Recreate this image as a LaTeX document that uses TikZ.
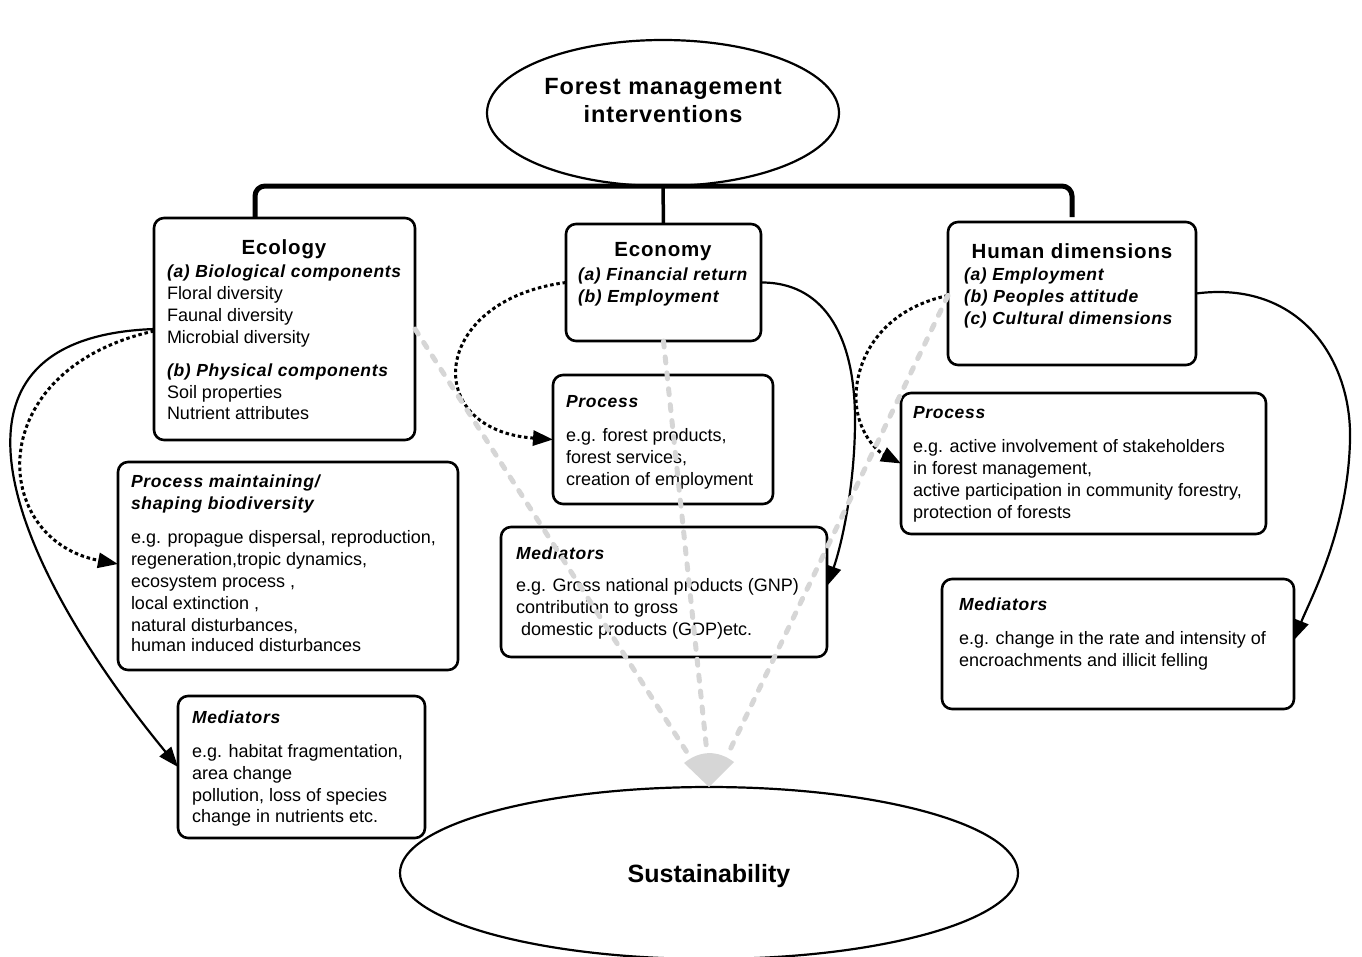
\documentclass[tikz,border=0pt]{standalone}
\usepackage{fontspec}
\setmainfont{Liberation Sans}
\newfontfamily\hfont[LetterSpace=4]{Liberation Sans}
\usetikzlibrary{arrows.meta,calc,shapes.geometric}
\definecolor{lgray}{RGB}{214,214,214}
\newcommand{\bitx}[1]{{\hfont\bfseries\itshape\fontsize{17.5}{22}\selectfont #1}}
\begin{document}
\begin{tikzpicture}[x=1pt,y=-1pt,
  box/.style={draw,line width=2.6pt,rounded corners=10pt,inner sep=0pt,outer sep=0pt},
  txt/.style={anchor=north west,inner sep=0pt,outer sep=0pt,align=left,font=\fontsize{18}{22}\selectfont},
  head/.style={anchor=base,inner sep=0pt,outer sep=0pt,font=\hfont\bfseries\fontsize{20.5}{22}\selectfont},
  oval/.style={ellipse,draw,line width=2.2pt,inner sep=0pt,outer sep=0pt},
  conn/.style={line width=2.2pt},
  arr/.style={-{Triangle[length=20pt,width=15pt]}},
  dotc/.style={line width=3pt,dash pattern=on 3.5pt off 2.8pt},
  gline/.style={draw=lgray,line width=5pt,line cap=round,dash pattern=on 6pt off 10pt},
  bracket/.style={line width=5pt,rounded corners=10pt}]
\useasboundingbox (0,0) rectangle (1362,956);

% ovals
\node[oval,minimum width=352pt,minimum height=146pt] (fmi) at (663,113) {};
\node[anchor=north,align=center,inner sep=0pt,font=\hfont\bfseries\fontsize{23.5}{28}\selectfont] (fmit) at (663,70) {\rule{0pt}{24pt}Forest management\\interventions};
\node[oval,minimum width=618pt,minimum height=172pt] (sust) at (709,873) {};
\node[anchor=base,inner sep=0pt,font=\bfseries\fontsize{25}{28}\selectfont] (sustt) at (709,882) {Sustainability};

% boxes
\node[box,minimum width=261pt,minimum height=222pt] (eco) at (284.5,329) {};
\node[box,minimum width=195pt,minimum height=117pt] (econ) at (663.5,282.5) {};
\node[box,minimum width=248pt,minimum height=143pt] (hum) at (1072,293.5) {};
\node[box,minimum width=340pt,minimum height=208pt] (ecoproc) at (288,566) {};
\node[box,minimum width=247pt,minimum height=142pt] (ecomed) at (301.5,767) {};
\node[box,minimum width=220pt,minimum height=129pt] (econproc) at (663,439.5) {};
\node[box,minimum width=326pt,minimum height=130pt] (econmed) at (664,592) {};
\node[box,minimum width=365pt,minimum height=141pt] (humproc) at (1083.5,463.5) {};
\node[box,minimum width=352pt,minimum height=130pt] (hummed) at (1118,644) {};

% texts
\node[head] (ecoh) at (284,254) {Ecology};
\node[txt] (ecot) at (167,257) {\rule{0pt}{20pt}\bitx{(a) Biological components}\\ Floral diversity\\ Faunal diversity\\ Microbial diversity\\[11pt] \bitx{(b) Physical components}\\ Soil properties\\[-1pt] Nutrient attributes};
\node[head] (econh) at (663,256) {Economy};
\node[txt] (econt) at (578,260) {\rule{0pt}{20pt}\bitx{(a) Financial return}\\ \bitx{(b) Employment}};
\node[head] (humh) at (1072,258) {Human dimensions};
\node[txt] (humt) at (964,260) {\rule{0pt}{20pt}\bitx{(a) Employment}\\ \bitx{(b) Peoples attitude}\\ \bitx{(c) Cultural dimensions}};
\node[txt] (econproct) at (566,387) {\rule{0pt}{20pt}\bitx{Process}\\[12pt] e.g. forest products,\\ forest services,\\ creation of employment};
\node[txt] (humproct) at (913,398) {\rule{0pt}{20pt}\bitx{Process}\\[12pt] e.g. active involvement of stakeholders\\ in forest management,\\ active participation in community forestry,\\ protection of forests};
\node[txt] (ecoproct) at (131,467) {\rule{0pt}{20pt}\bitx{Process maintaining/}\\ \bitx{shaping biodiversity}\\[12pt] e.g. propague dispersal, reproduction,\\ regeneration,tropic dynamics,\\ ecosystem process ,\\ local extinction ,\\ natural disturbances,\\[-2pt] human induced disturbances};
\node[txt] (ecomedt) at (192,703) {\rule{0pt}{20pt}\bitx{Mediators}\\[12pt] e.g. habitat fragmentation,\\ area change\\ pollution, loss of species\\[-1pt] change in nutrients etc.};
\node[txt] (econmedt) at (516,539) {\rule{0pt}{20pt}\bitx{Mediators}\\[10pt] e.g. Gross national products (GNP)\\ contribution to gross\\ \hspace*{5pt}domestic products (GDP)etc.};
\node[txt] (hummedt) at (959,590) {\rule{0pt}{20pt}\bitx{Mediators}\\[12pt] e.g. change in the rate and intensity of\\ encroachments and illicit felling};

% bracket
\coordinate (bl) at ($(eco.north west)+(101,0)$);
\coordinate (br) at ($(hum.north)+(0,-5)$);
\draw[bracket] (bl) -- (bl |- fmi.south) -- (br |- fmi.south) -- (br);
\draw[line width=3.5pt] (fmi.south) -- (econ.north);

% black connectors
\draw[conn,arr] (eco.west) .. controls (-90,338) and (20,575) .. (ecomed.west);
\draw[dotc,arr] ([yshift=-2pt]eco.west) .. controls (-20,370) and (-10,540) .. ([yshift=2pt]ecoproc.west);
\draw[dotc,arr] (econ.west) .. controls (430,300) and (420,430) .. (econproc.west);
\draw[conn,arr] (econ.east) .. controls (820,282) and (855,330) .. (855,420) .. controls (855,490) and (840,550) .. ([yshift=6pt]econmed.east);
\draw[dotc,arr] ([yshift=-2pt]hum.west) .. controls (880,310) and (855,360) .. (856,400) .. controls (857,430) and (875,450) .. (humproc.west);
\draw[conn,arr] (hum.east) .. controls (1300,280) and (1352,360) .. (1350,440) .. controls (1348,530) and (1310,600) .. ([yshift=4pt]hummed.east);

% gray dashed connectors and head
\coordinate (g1) at ($(sust.north)+(-19,-30)$);
\coordinate (g2) at ($(sust.north)+(-2,-34)$);
\coordinate (g3) at ($(sust.north)+(18,-31)$);
\draw[gline] (eco.east) -- (g1);
\draw[gline] (econ.south) -- (g2);
\draw[gline] ([yshift=-2pt]hum.west) -- (g3);
\fill[lgray] ($(sust.north)+(-25,-24)$) .. controls ($(sust.north)+(-9,-37)$) and ($(sust.north)+(9,-37)$) .. ($(sust.north)+(25,-25)$) -- (sust.north) -- cycle;
\end{tikzpicture}
\end{document}
